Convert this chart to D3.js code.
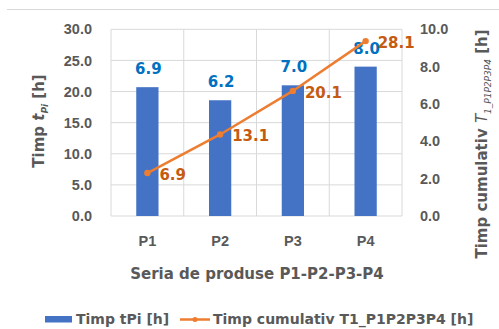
<!DOCTYPE html>
<html>
<head>
<meta charset="utf-8">
<script src="https://cdn.jsdelivr.net/npm/d3@7"></script>
<style>
  body { margin: 0; background: #fff; }
  svg { font-family: "DejaVu Sans", sans-serif; }
</style>
</head>
<body>
<div id="chart-area"></div>
<script>
// data
let categories = ['P1', 'P2', 'P3', 'P4']
let timpValues = [6.9, 6.2, 7.0, 8.0]           // bars, right axis
let cumulativValues = [6.9, 13.1, 20.1, 28.1]   // line, left axis
let leftTicks = [0, 5, 10, 15, 20, 25, 30]
let rightTicks = [0, 2, 4, 6, 8, 10]

let width = 499
let height = 329
let plot = { left: 111, right: 402, top: 29.3, bottom: 216 }

let svg = d3.select('#chart-area').append('svg')
	.attr('width', width)
	.attr('height', height)

// top border line
svg.append('line')
	.attr('x1', 7).attr('x2', width)
	.attr('y1', 9.5).attr('y2', 9.5)
	.attr('stroke', '#d9d9d9')

let x = d3.scaleBand()
	.domain(categories)
	.range([plot.left, plot.right])
	.padding(0)

let yLeft = d3.scaleLinear()
	.domain([0, 30])
	.range([plot.bottom, plot.top])

let yRight = d3.scaleLinear()
	.domain([0, 10])
	.range([plot.bottom, plot.top])

// GRID
svg.append('g')
	.selectAll('line')
	.data(leftTicks)
	.enter().append('line')
		.attr('x1', plot.left).attr('x2', plot.right)
		.attr('y1', d => yLeft(d)).attr('y2', d => yLeft(d))
		.attr('stroke', '#d9d9d9')

svg.append('g')
	.selectAll('line')
	.data(categories.concat(['end']))
	.enter().append('line')
		.attr('x1', d => d == 'end' ? plot.right : x(d))
		.attr('x2', d => d == 'end' ? plot.right : x(d))
		.attr('y1', plot.top).attr('y2', plot.bottom)
		.attr('stroke', '#d9d9d9')

// AXES
let tickFont = g => g.selectAll('text')
	.attr('fill', '#595959')
	.style('font-size', '14.5px')
	.style('font-weight', '700')

svg.append('g')
	.attr('transform', 'translate(' + plot.left + ', 0)')
	.call(d3.axisLeft(yLeft).tickValues(leftTicks).tickFormat(d3.format('.1f')).tickSize(0).tickPadding(19))
	.call(g => g.select('.domain').remove())
	.call(tickFont)

svg.append('g')
	.attr('transform', 'translate(' + plot.right + ', 0)')
	.call(d3.axisRight(yRight).tickValues(rightTicks).tickFormat(d3.format('.1f')).tickSize(0).tickPadding(18))
	.call(g => g.select('.domain').remove())
	.call(tickFont)

svg.append('g')
	.attr('transform', 'translate(0, ' + plot.bottom + ')')
	.call(d3.axisBottom(x).tickSize(0).tickPadding(20))
	.call(g => g.select('.domain').remove())
	.call(tickFont)

// BARS
let barWidth = x.bandwidth() * 0.306
svg.append('g')
	.selectAll('rect')
	.data(timpValues)
	.enter().append('rect')
		.attr('x', (d, i) => x(categories[i]) + x.bandwidth() / 2 - barWidth / 2)
		.attr('y', d => yRight(d))
		.attr('width', barWidth)
		.attr('height', d => plot.bottom - yRight(d))
		.attr('fill', '#4472c4')

svg.append('g')
	.selectAll('text')
	.data(timpValues)
	.enter().append('text')
		.attr('x', (d, i) => x(categories[i]) + x.bandwidth() / 2 + 1)
		.attr('y', d => yRight(d) - 13)
		.attr('text-anchor', 'middle')
		.attr('fill', '#0070c0')
		.style('font-size', '15px')
		.style('font-weight', '700')
		.text(d => d3.format('.1f')(d))

// LINE
let line = d3.line()
	.x((d, i) => x(categories[i]) + x.bandwidth() / 2)
	.y(d => yLeft(d))

svg.append('path')
	.datum(cumulativValues)
	.attr('d', line)
	.attr('fill', 'none')
	.attr('stroke', '#ed7d31')
	.attr('stroke-width', 2.5)
	.attr('stroke-linecap', 'round')

svg.append('g')
	.selectAll('circle')
	.data(cumulativValues)
	.enter().append('circle')
		.attr('cx', (d, i) => x(categories[i]) + x.bandwidth() / 2)
		.attr('cy', d => yLeft(d))
		.attr('r', 3.2)
		.attr('fill', '#ed7d31')

svg.append('g')
	.selectAll('text')
	.data(cumulativValues)
	.enter().append('text')
		.attr('x', (d, i) => x(categories[i]) + x.bandwidth() / 2 + 12)
		.attr('y', d => yLeft(d) + 7)
		.attr('fill', '#c55a11')
		.style('font-size', '15px')
		.style('font-weight', '700')
		.text(d => d3.format('.1f')(d))

// AXIS TITLES
svg.append('text')
	.attr('x', 257)
	.attr('y', 279)
	.attr('text-anchor', 'middle')
	.attr('fill', '#595959')
	.style('font-size', '15px')
	.style('font-weight', '700')
	.text('Seria de produse P1-P2-P3-P4')

let leftTitle = svg.append('text')
	.attr('transform', 'translate(44, 121) rotate(-90)')
	.attr('text-anchor', 'middle')
	.attr('fill', '#595959')
	.style('font-size', '15px')
	.style('font-weight', '700')
leftTitle.append('tspan').text('Timp ')
leftTitle.append('tspan').style('font-style', 'italic').text('t')
leftTitle.append('tspan').style('font-style', 'italic').style('font-size', '9px').attr('dy', 4).text('Pi')
leftTitle.append('tspan').attr('dy', -4).text(' [h]')

let rightTitle = svg.append('text')
	.attr('transform', 'translate(487, 144) rotate(-90)')
	.attr('text-anchor', 'middle')
	.attr('fill', '#595959')
	.style('font-size', '15px')
	.style('font-weight', '700')
rightTitle.append('tspan').text('Timp cumulativ ')
rightTitle.append('tspan').style('font-style', 'italic').style('font-weight', '400').text('T')
rightTitle.append('tspan').style('font-style', 'italic').style('font-weight', '400').style('font-size', '9px').attr('dy', 4).text('1_P1P2P3P4')
rightTitle.append('tspan').attr('dy', -4).text('   [h]')

// LEGEND
let legend = svg.append('g')
	.style('font-size', '14px')
	.style('font-weight', '700')
	.attr('fill', '#595959')

legend.append('rect')
	.attr('x', 45).attr('y', 316)
	.attr('width', 27).attr('height', 6.5)
	.attr('fill', '#4472c4')
legend.append('text')
	.attr('x', 76).attr('y', 324)
	.text('Timp tPi [h]')

legend.append('line')
	.attr('x1', 180).attr('x2', 210)
	.attr('y1', 319.5).attr('y2', 319.5)
	.attr('stroke', '#ed7d31')
	.attr('stroke-width', 2.5)
legend.append('circle')
	.attr('cx', 195).attr('cy', 319.5)
	.attr('r', 2.5)
	.attr('fill', '#ed7d31')
legend.append('text')
	.attr('x', 213).attr('y', 324)
	.text('Timp cumulativ T1_P1P2P3P4 [h]')
</script>
</body>
</html>
